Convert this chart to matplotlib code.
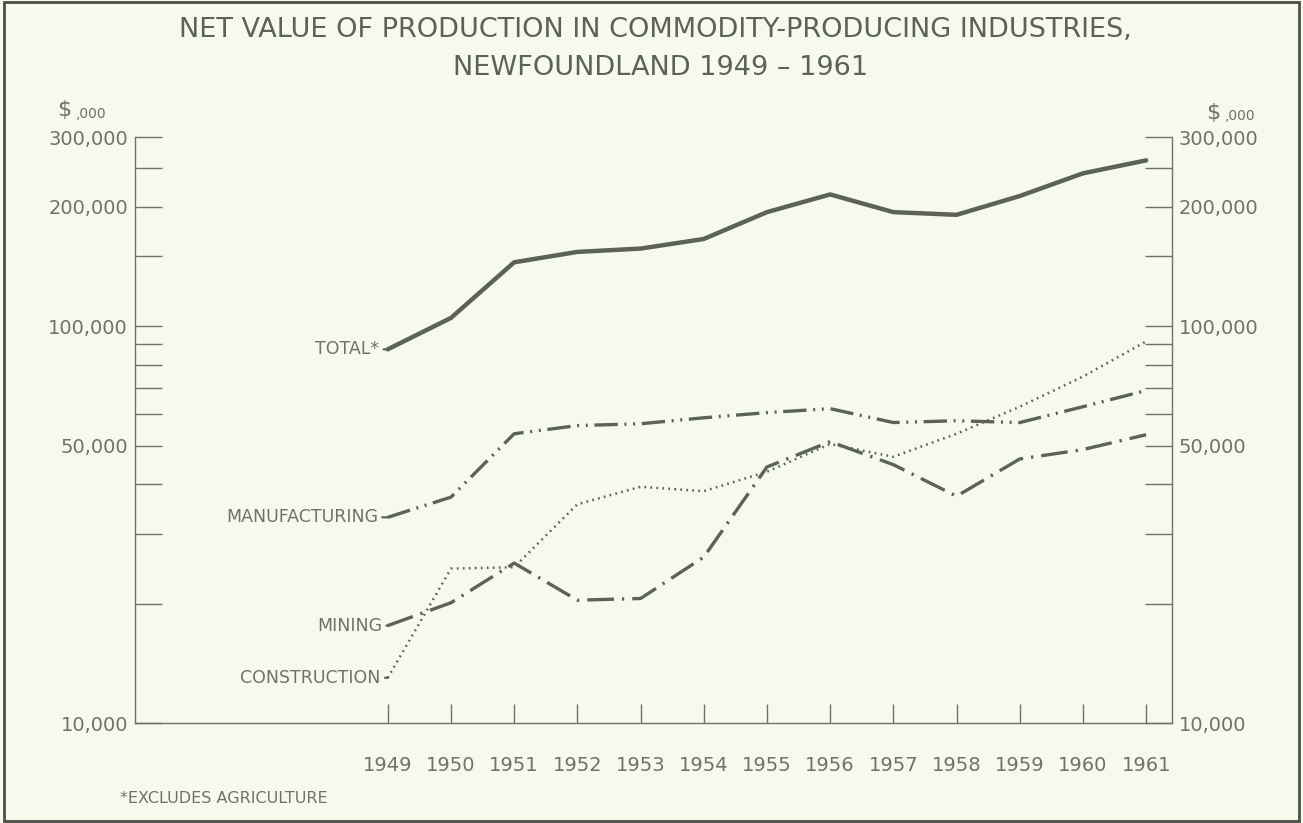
import matplotlib.pyplot as plt
from matplotlib.ticker import FixedLocator, NullFormatter, FixedFormatter

years = list(range(1949, 1962))

# $1,000
total = [87500, 105000, 145000, 154000, 157000, 166000, 194000,
         215000, 194000, 191000, 213000, 243000, 262000]
manufacturing = [33000, 37100, 53600, 56200, 56800, 58800, 60600,
                 62000, 57200, 57800, 57200, 62700, 68900]
mining = [17600, 20100, 25300, 20400, 20600, 26200, 44200,
          51200, 44800, 37300, 46300, 48900, 53300]
construction = [13000, 24500, 24700, 35600, 39400, 38400, 43000,
                50500, 46900, 53600, 62700, 74700, 91600]

major_ticks = [10000, 50000, 100000, 200000, 300000]
major_labels = ["10,000", "50,000", "100,000", "200,000", "300,000"]
minor_ticks = [20000, 30000, 40000, 60000, 70000, 80000, 90000, 150000, 250000]

bg = "#f8f9ed"
ink = "#5b6358"
txt = "#6e7269"

plt.rcParams['font.family'] = ['DejaVu Sans']

fig = plt.figure(figsize=(13.03, 8.23), dpi=100, facecolor=bg)
ax = fig.add_axes([0.1036, 0.1215, 0.7959, 0.712])
ax.set_facecolor(bg)

ax.plot(years, total, color=ink, lw=3.2, solid_capstyle="round")
ax.plot(years, manufacturing, color=ink, lw=2.4, linestyle=(0, (7, 2, 0.6, 2, 0.6, 2)))
ax.plot(years, mining, color=ink, lw=2.4, linestyle=(0, (8, 2.4, 0.7, 2.4)))
ax.plot(years, construction, color=ink, lw=1.8, linestyle=(0, (0.7, 1.7)))

ax.set_yscale("log")
ax.set_ylim(10000, 300000)
ax.set_xlim(1945, 1961.41)

ax.yaxis.set_major_locator(FixedLocator(major_ticks))
ax.yaxis.set_major_formatter(FixedFormatter(major_labels))
ax.yaxis.set_minor_locator(FixedLocator(minor_ticks))
ax.yaxis.set_minor_formatter(NullFormatter())

ax.set_xticks(years)
ax.set_xticklabels([str(y) for y in years])

ax.spines["top"].set_visible(False)
for s in ["left", "right", "bottom"]:
    ax.spines[s].set_color(txt)
    ax.spines[s].set_linewidth(1.0)

ax.tick_params(axis="y", which="both", direction="in", length=19.5, width=1.0,
               color=txt, left=True, right=True, labelleft=True, labelright=True,
               labelsize=14, labelcolor=txt, pad=5)
ax.tick_params(axis="x", direction="in", length=14, width=1.0, color=txt,
               labelsize=14, labelcolor=txt, pad=24)

# series labels
lab = dict(fontsize=12.5, color=txt, ha="right", va="center", textcoords="offset points",
           arrowprops=dict(arrowstyle="-", color=ink, lw=1.6, shrinkA=1, shrinkB=0))
ax.annotate("TOTAL*", xy=(1949, total[0]), xytext=(-6, 0), **lab)
ax.annotate("MANUFACTURING", xy=(1949, manufacturing[0]), xytext=(-7, 0), **lab)
ax.annotate("MINING", xy=(1949, mining[0]), xytext=(-4, 0), **lab)
ax.annotate("CONSTRUCTION", xy=(1949, construction[0]), xytext=(-5, 0), **lab)

fig.text(0.503, 0.963, "NET VALUE OF PRODUCTION IN COMMODITY-PRODUCING INDUSTRIES,",
         ha="center", va="center", fontsize=19.5, color=ink)
fig.text(0.507, 0.917, "NEWFOUNDLAND 1949 \u2013 1961",
         ha="center", va="center", fontsize=19.5, color=ink)

fig.text(0.044, 0.866, "$", fontsize=16, color=txt, ha="left", va="center")
fig.text(0.058, 0.862, ",000", fontsize=10, color=txt, ha="left", va="center")
fig.text(0.926, 0.863, "$", fontsize=16, color=txt, ha="left", va="center")
fig.text(0.940, 0.859, ",000", fontsize=10, color=txt, ha="left", va="center")

fig.text(0.092, 0.030, "*EXCLUDES AGRICULTURE", fontsize=11.5, color=txt,
         ha="left", va="center")

border = plt.Rectangle((0.003, 0.003), 0.994, 0.994, transform=fig.transFigure,
                       fill=False, edgecolor="#4a4f48", lw=2)
fig.patches.append(border)

fig.savefig("out.png", dpi=100, facecolor=bg)
plt.close()
